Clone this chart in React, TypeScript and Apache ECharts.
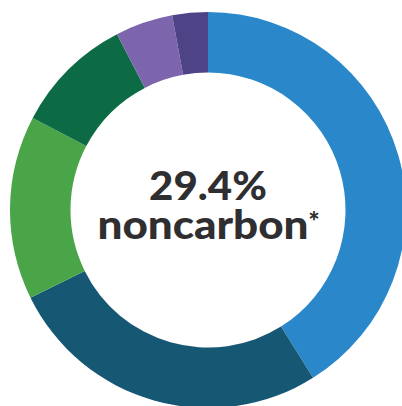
import React, { useEffect, useRef } from "react";
import * as echarts from "echarts";

const categories = ["Source 1", "Source 2", "Source 3", "Source 4", "Source 5", "Source 6"];
const shares = [41.1, 26.6, 15.0, 9.7, 4.7, 2.9];
const colors = ["#2a88ca", "#165773", "#4aa548", "#0c6a45", "#7c65ac", "#4e4387"];
const headline = "29.4%";
const subline = "noncarbon";
const footnoteMark = "*";

export default function App() {
  const ref = useRef<HTMLDivElement>(null);
  useEffect(() => {
    if (!ref.current) return;
    const chart = echarts.init(ref.current, undefined, { renderer: "svg" });
    const ink = "#2f2e30";
    chart.setOption({
      animation: false,
      backgroundColor: "#ffffff",
      series: [
        {
          type: "pie",
          center: [208, 210],
          radius: [137.5, 198],
          startAngle: 90,
          clockwise: true,
          label: { show: false },
          labelLine: { show: false },
          emphasis: { disabled: true },
          itemStyle: { borderWidth: 0 },
          data: categories.map((name, i) => ({
            name,
            value: shares[i],
            itemStyle: { color: colors[i] },
          })),
        },
      ],
      graphic: [
        {
          type: "text",
          x: 208,
          y: 205,
          scaleX: 1.05,
          style: {
            text: headline,
            font: "900 40px Lato",
            fill: ink,
            align: "center",
            verticalAlign: "bottom",
          },
        },
        {
          type: "text",
          x: 203,
          y: 244,
          scaleX: 1.1,
          style: {
            text: subline,
            font: "900 40px Lato",
            fill: ink,
            align: "center",
            verticalAlign: "bottom",
          },
        },
        {
          type: "text",
          x: 314,
          y: 207,
          style: {
            text: footnoteMark,
            font: "900 27px Lato",
            fill: ink,
            align: "center",
            verticalAlign: "top",
          },
        },
      ],
    });
    return () => chart.dispose();
  }, []);
  return (
    <div
      ref={ref}
      style={{ position: "fixed", left: 0, top: 0, width: 402, height: 406 }}
    />
  );
}
